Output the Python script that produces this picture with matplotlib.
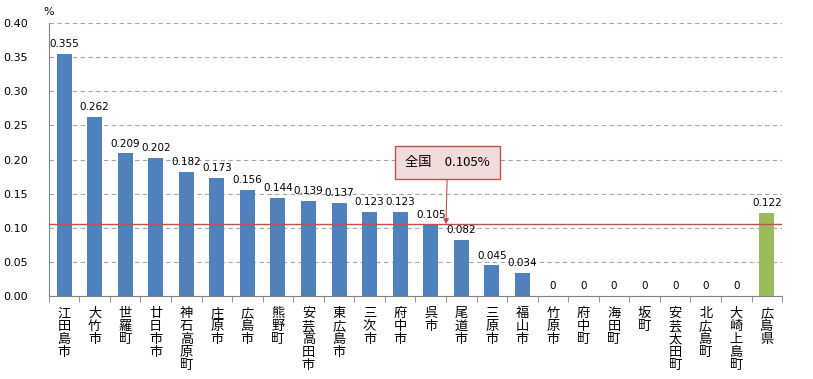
import matplotlib
matplotlib.use('Agg')
import matplotlib.pyplot as plt
import numpy as np

plt.rcParams['font.family'] = ['Noto Sans CJK JP', 'DejaVu Sans']

cities = ['江田島市', '大竹市', '世羅町', '廿日市市', '神石高原町', '庄原市', '広島市',
          '熊野町', '安芸高田市', '東広島市', '三次市', '府中市', '呉市', '尾道市',
          '三原市', '福山市', '竹原市', '府中町', '海田町', '坂町', '安芸太田町',
          '北広島町', '大崎上島町', '広島県']
values = [0.355, 0.262, 0.209, 0.202, 0.182, 0.173, 0.156, 0.144, 0.139, 0.137,
          0.123, 0.123, 0.105, 0.082, 0.045, 0.034, 0, 0, 0, 0, 0, 0, 0, 0.122]
national = 0.105

n = len(cities)

fig = plt.figure(figsize=(8.13, 3.79), dpi=100)
ax = fig.add_axes([0.060, 0.219, 0.902, 0.720])

x = np.arange(n)
colors = ['#4f81bd'] * (n - 1) + ['#9bbb59']
ax.bar(x, values, width=0.49, color=colors, zorder=3)

for xi, v in zip(x, values):
    label = '0' if v == 0 else f'{v:.3f}'
    ax.text(xi, v + 0.007, label, ha='center', va='bottom', fontsize=7.5,
            family='DejaVu Sans', zorder=4)

ax.axhline(national, color='#c0504d', lw=1, zorder=4)

ax.set_xlim(-0.5, n - 0.5)
ax.set_ylim(0, 0.40)
yt = np.arange(0, 0.41, 0.05)
ax.set_yticks(yt)
ax.set_yticklabels([f'{t:.2f}' for t in yt], family='DejaVu Sans', fontsize=8)
ax.yaxis.grid(True, linestyle=(0, (4, 3)), color='#a6a6a6', lw=0.8, zorder=0)
ax.tick_params(axis='y', length=0, pad=15)

ax.set_xticks(x)
ax.set_xticklabels(['\n'.join(c) for c in cities], fontsize=9.5, va='top',
                   linespacing=1.0)
ax.set_xticks(np.arange(-0.5, n, 1), minor=True)
ax.tick_params(axis='x', which='major', length=0, pad=8)
ax.tick_params(axis='x', which='minor', length=4, color='#808080')

for s in ['top', 'right']:
    ax.spines[s].set_visible(False)
for s in ['left', 'bottom']:
    ax.spines[s].set_color('#808080')

ax.text(-0.5, 0.409, '%', fontsize=8, family='DejaVu Sans', ha='center',
        va='bottom')

ax.annotate('全国　0.105%', xy=(12.5, national), xytext=(12.55, 0.196),
            ha='center', va='center', fontsize=9.5,
            bbox=dict(boxstyle='square,pad=0.75', fc='#f2dcdb', ec='#c0504d', lw=1),
            arrowprops=dict(arrowstyle='-|>', color='#c0504d', lw=0.8,
                            mutation_scale=8, shrinkA=0, shrinkB=0),
            zorder=5)

fig.savefig('out.png', dpi=100)
